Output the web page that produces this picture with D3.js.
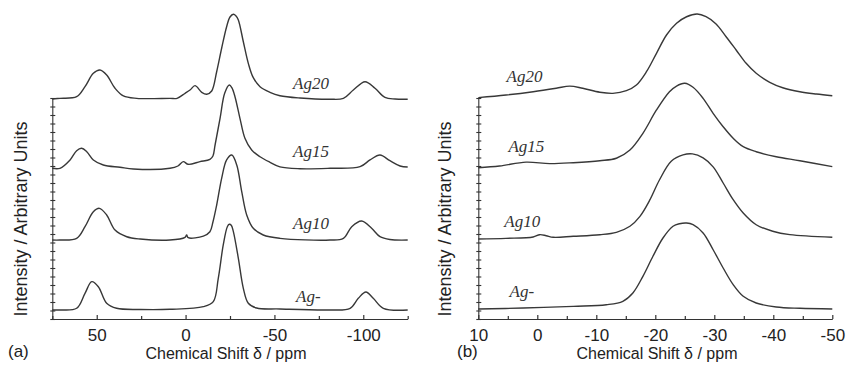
<!DOCTYPE html>
<html><head><meta charset="utf-8">
<script src="https://cdn.jsdelivr.net/npm/d3@7"></script>
<style>body{margin:0;background:#fff}svg{display:block}</style>
</head><body>
<svg id="c" width="846" height="367"></svg>
<script>
// ---------- data (chemical shift ppm, intensity in arbitrary units incl. stacking offset) ----------
const seriesNames = ["Ag-", "Ag10", "Ag15", "Ag20"];
const aMajorTicks = [50, 0, -50, -100];
const aMinorTicks = [75, 25, -25, -75, -125];
const bMajorTicks = [10, 0, -10, -20, -30, -40, -50];
const bMinorTicks = [5, -5, -15, -25, -35, -45];
const yTickValues = [0,1,2,3,4,5,6,7,8,9,10,11,12,13,14,15,16,17,18,19,20,21,22,23,24,25,26];

// panel (a)
const aAg20 = [[75,25.88],[70.7,25.96],[61.3,26.15],[56.6,27.33],[51.9,28.9],[48.2,29.29],[44.4,28.71],[39.7,27.14],[35.0,26.24],[27.5,25.96],[8.8,25.96],[4.8,25.96],[0.3,26.55],[-2.5,26.94],[-5.3,27.45],[-9.1,26.67],[-11.9,26.44],[-14.7,26.82],[-17.5,29.09],[-20.3,31.85],[-23.1,34.39],[-25.0,35.53],[-26.9,35.85],[-28.4,35.65],[-29.7,35.18],[-32.5,32.62],[-35.3,30.08],[-38.1,28.39],[-41.9,27.33],[-47.5,26.67],[-53.1,26.27],[-64.4,26.0],[-81.3,25.85],[-88.8,25.96],[-94.4,26.94],[-101.0,27.92],[-106.6,27.14],[-112.2,26.08],[-117.9,25.88],[-125,25.85]];
const aAg15 = [[75,17.73],[70.7,17.73],[65.0,18.71],[61.3,19.8],[58.5,20.08],[55.6,19.68],[51.9,18.71],[46.3,18.12],[36.9,17.85],[29.4,17.65],[8.8,17.73],[4.3,18.0],[1.3,18.51],[-1.5,18.2],[-8.1,18.51],[-13.7,18.79],[-15.4,19.18],[-16.6,20.47],[-19.4,23.61],[-22.0,26.55],[-24.6,27.53],[-26.1,27.18],[-27.8,26.15],[-30.6,23.61],[-33.4,21.26],[-37.2,19.88],[-41.9,19.09],[-47.5,18.44],[-53.1,17.9],[-64.4,17.68],[-81.3,17.73],[-98.2,17.92],[-103.8,18.71],[-109.4,19.29],[-115.0,18.62],[-120.7,18.0],[-125,17.88]];
const aAg10 = [[75,9.29],[70.7,9.29],[61.3,9.49],[56.6,10.86],[51.9,12.62],[48.5,13.02],[44.4,12.24],[39.7,10.47],[33.1,9.68],[25.6,9.41],[8.8,9.29],[0.3,9.61],[-0.6,9.88],[-1.5,9.56],[-10.0,9.76],[-13.7,10.27],[-15.4,11.41],[-17.5,13.41],[-20.3,16.55],[-23.1,18.71],[-26.0,19.29],[-28.8,18.12],[-31.6,14.98],[-34.4,12.24],[-38.1,10.67],[-43.7,9.88],[-53.1,9.49],[-81.3,9.29],[-88.8,9.49],[-93.5,10.86],[-99.1,11.53],[-104.7,10.67],[-109.4,9.68],[-115.0,9.35],[-125,9.29]];
const aAgM = [[75,1.06],[70.7,1.06],[61.3,1.26],[56.6,3.02],[52.8,4.39],[49.1,3.8],[44.4,1.85],[38.8,1.26],[25.6,1.12],[8.8,1.14],[-10.0,1.45],[-15.6,2.04],[-18.4,4.79],[-21.2,8.71],[-23.5,10.86],[-24.6,11.14],[-25.8,11.0],[-26.9,10.27],[-29.7,7.14],[-32.5,3.61],[-35.3,1.85],[-40.0,1.29],[-53.1,1.18],[-81.3,1.06],[-92.6,1.26],[-97.2,2.44],[-101.5,3.18],[-105.6,2.44],[-111.3,1.26],[-125,1.06]];

// panel (b)
const bAg20 = [[10,26.04],[5.3,26.35],[0.7,26.74],[-3.2,27.14],[-5.5,27.4],[-7.7,27.14],[-10.6,26.68],[-12.8,26.55],[-15.1,26.86],[-16.8,27.53],[-18.5,29.09],[-20.2,31.26],[-21.9,33.41],[-23.6,34.79],[-25.3,35.56],[-27.1,35.88],[-28.6,35.56],[-30.3,34.71],[-32.0,33.21],[-33.7,31.65],[-35.4,30.08],[-37.1,28.91],[-39.4,27.85],[-41.6,27.21],[-44.5,26.74],[-47.3,26.47],[-50,26.27]];
const bAg15 = [[10,17.8],[6.4,18.0],[1.9,18.45],[-2.1,18.28],[-6.1,18.39],[-10.6,18.62],[-13.4,18.91],[-15.7,19.88],[-17.9,21.85],[-20.2,24.59],[-22.4,26.74],[-23.6,27.41],[-25.0,27.73],[-26.4,27.26],[-28.1,25.96],[-29.8,24.2],[-31.5,22.62],[-33.2,21.26],[-34.9,20.27],[-37.1,19.68],[-40.5,19.09],[-44.5,18.62],[-50,17.92]];
const bAg10 = [[10,9.41],[5.3,9.49],[0.7,9.65],[-0.4,9.92],[-1.5,9.8],[-2.7,9.61],[-6.1,9.73],[-10.6,9.92],[-13.4,10.2],[-15.7,10.91],[-17.4,12.08],[-19.1,14.04],[-20.7,16.35],[-22.7,18.55],[-24.7,19.3],[-26.3,19.42],[-28.1,18.95],[-29.8,17.9],[-31.5,16.0],[-33.2,14.04],[-34.9,12.47],[-37.1,11.09],[-39.9,10.32],[-42.8,9.92],[-50,9.61]];
const bAgM = [[10,1.18],[2.4,1.29],[-6.1,1.49],[-11.7,1.68],[-14.5,2.08],[-16.2,3.06],[-17.9,5.02],[-19.6,7.38],[-21.3,9.53],[-23.0,10.91],[-24.1,11.21],[-25.3,11.29],[-26.4,11.09],[-28.1,10.12],[-29.8,8.15],[-31.5,6.0],[-33.2,4.04],[-34.9,2.67],[-37.1,1.88],[-40.5,1.41],[-44.5,1.26],[-50,1.18]];

// ---------- drawing ----------
const svg = d3.select("#c");
const INK = "#333";
const sans = "'Liberation Sans', Arial, sans-serif";
const serif = "'Liberation Serif', 'Times New Roman', serif";

function panel(cfg) {
  const x = d3.scaleLinear().domain(cfg.xDomain).range(cfg.xRange);
  const y = d3.scaleLinear().domain([0, 26]).range([319, 98]);
  const g = svg.append("g");

  // curves
  const line = d3.line().x(d => x(d[0])).y(d => y(d[1])).curve(d3.curveCatmullRom.alpha(0.5));
  cfg.series.forEach(s => {
    g.append("path").attr("d", line(s)).attr("fill", "none")
      .attr("stroke", "#383838").attr("stroke-width", 1.4).attr("stroke-linejoin", "round");
  });

  // x axis: minor ticks
  const xMinor = g.append("g").attr("transform", "translate(0,319)")
    .call(d3.axisBottom(x).tickValues(cfg.minor).tickSizeInner(-3).tickSizeOuter(0).tickFormat(""));
  xMinor.select(".domain").remove();
  // x axis: major ticks + labels
  const xa = g.append("g").attr("transform", "translate(0,319)")
    .call(d3.axisBottom(x).tickValues(cfg.major).tickSizeInner(-4).tickSizeOuter(0).tickPadding(9.5).tickFormat(d => String(d)));
  xa.attr("font-family", sans).attr("font-size", 17);
  [xMinor, xa].forEach(a => { a.selectAll("line, path").attr("stroke", INK).attr("stroke-width", 1.2); });
  xa.selectAll("text").attr("fill", "#222");

  // y axis
  const ya = g.append("g").attr("transform", `translate(${cfg.xRange[0]},0)`)
    .call(d3.axisLeft(y).tickValues(yTickValues).tickSizeInner(-3).tickSizeOuter(0).tickFormat(""));
  ya.selectAll(".tick line").attr("x1", -2);
  ya.selectAll("line, path").attr("stroke", INK).attr("stroke-width", 1.1);

  // series labels
  cfg.labels.forEach((lb, i) => {
    g.append("text").attr("x", x(lb[0])).attr("y", y(lb[1]))
      .attr("font-family", serif).attr("font-style", "italic").attr("font-size", 17)
      .attr("fill", "#333").text(seriesNames[i]);
  });

  // axis titles
  g.append("text").attr("x", cfg.titleX).attr("y", 358.5).attr("text-anchor", "middle")
    .attr("font-family", sans).attr("font-size", 16).attr("fill", "#222").text("Chemical Shift δ / ppm");
  g.append("text").attr("transform", `translate(${cfg.yTitleX},219) rotate(-90)`).attr("text-anchor", "middle")
    .attr("font-family", sans).attr("font-size", 18).attr("fill", "#222").text("Intensity / Arbitrary Units");
  g.append("text").attr("x", cfg.tagX).attr("y", 357).attr("font-family", sans).attr("font-size", 17)
    .attr("fill", "#222").text(cfg.tag);
}

panel({
  xDomain: [75, -125], xRange: [52.3, 407.7],
  major: aMajorTicks, minor: aMinorTicks,
  series: [aAgM, aAg10, aAg15, aAg20],
  labels: [[-62.2, 2.0], [-60.5, 10.6], [-60.5, 19.1], [-60.5, 27.1]],
  titleX: 226, yTitleX: 26.5, tagX: 8, tag: "(a)"
});
panel({
  xDomain: [10, -50], xRange: [478.3, 832.3],
  major: bMajorTicks, minor: bMinorTicks,
  series: [bAgM, bAg10, bAg15, bAg20],
  labels: [[4.7, 2.6], [5.6, 10.8], [4.9, 19.6], [5.2, 27.9]],
  titleX: 657, yTitleX: 451, tagX: 457, tag: "(b)"
});
</script>
</body></html>
